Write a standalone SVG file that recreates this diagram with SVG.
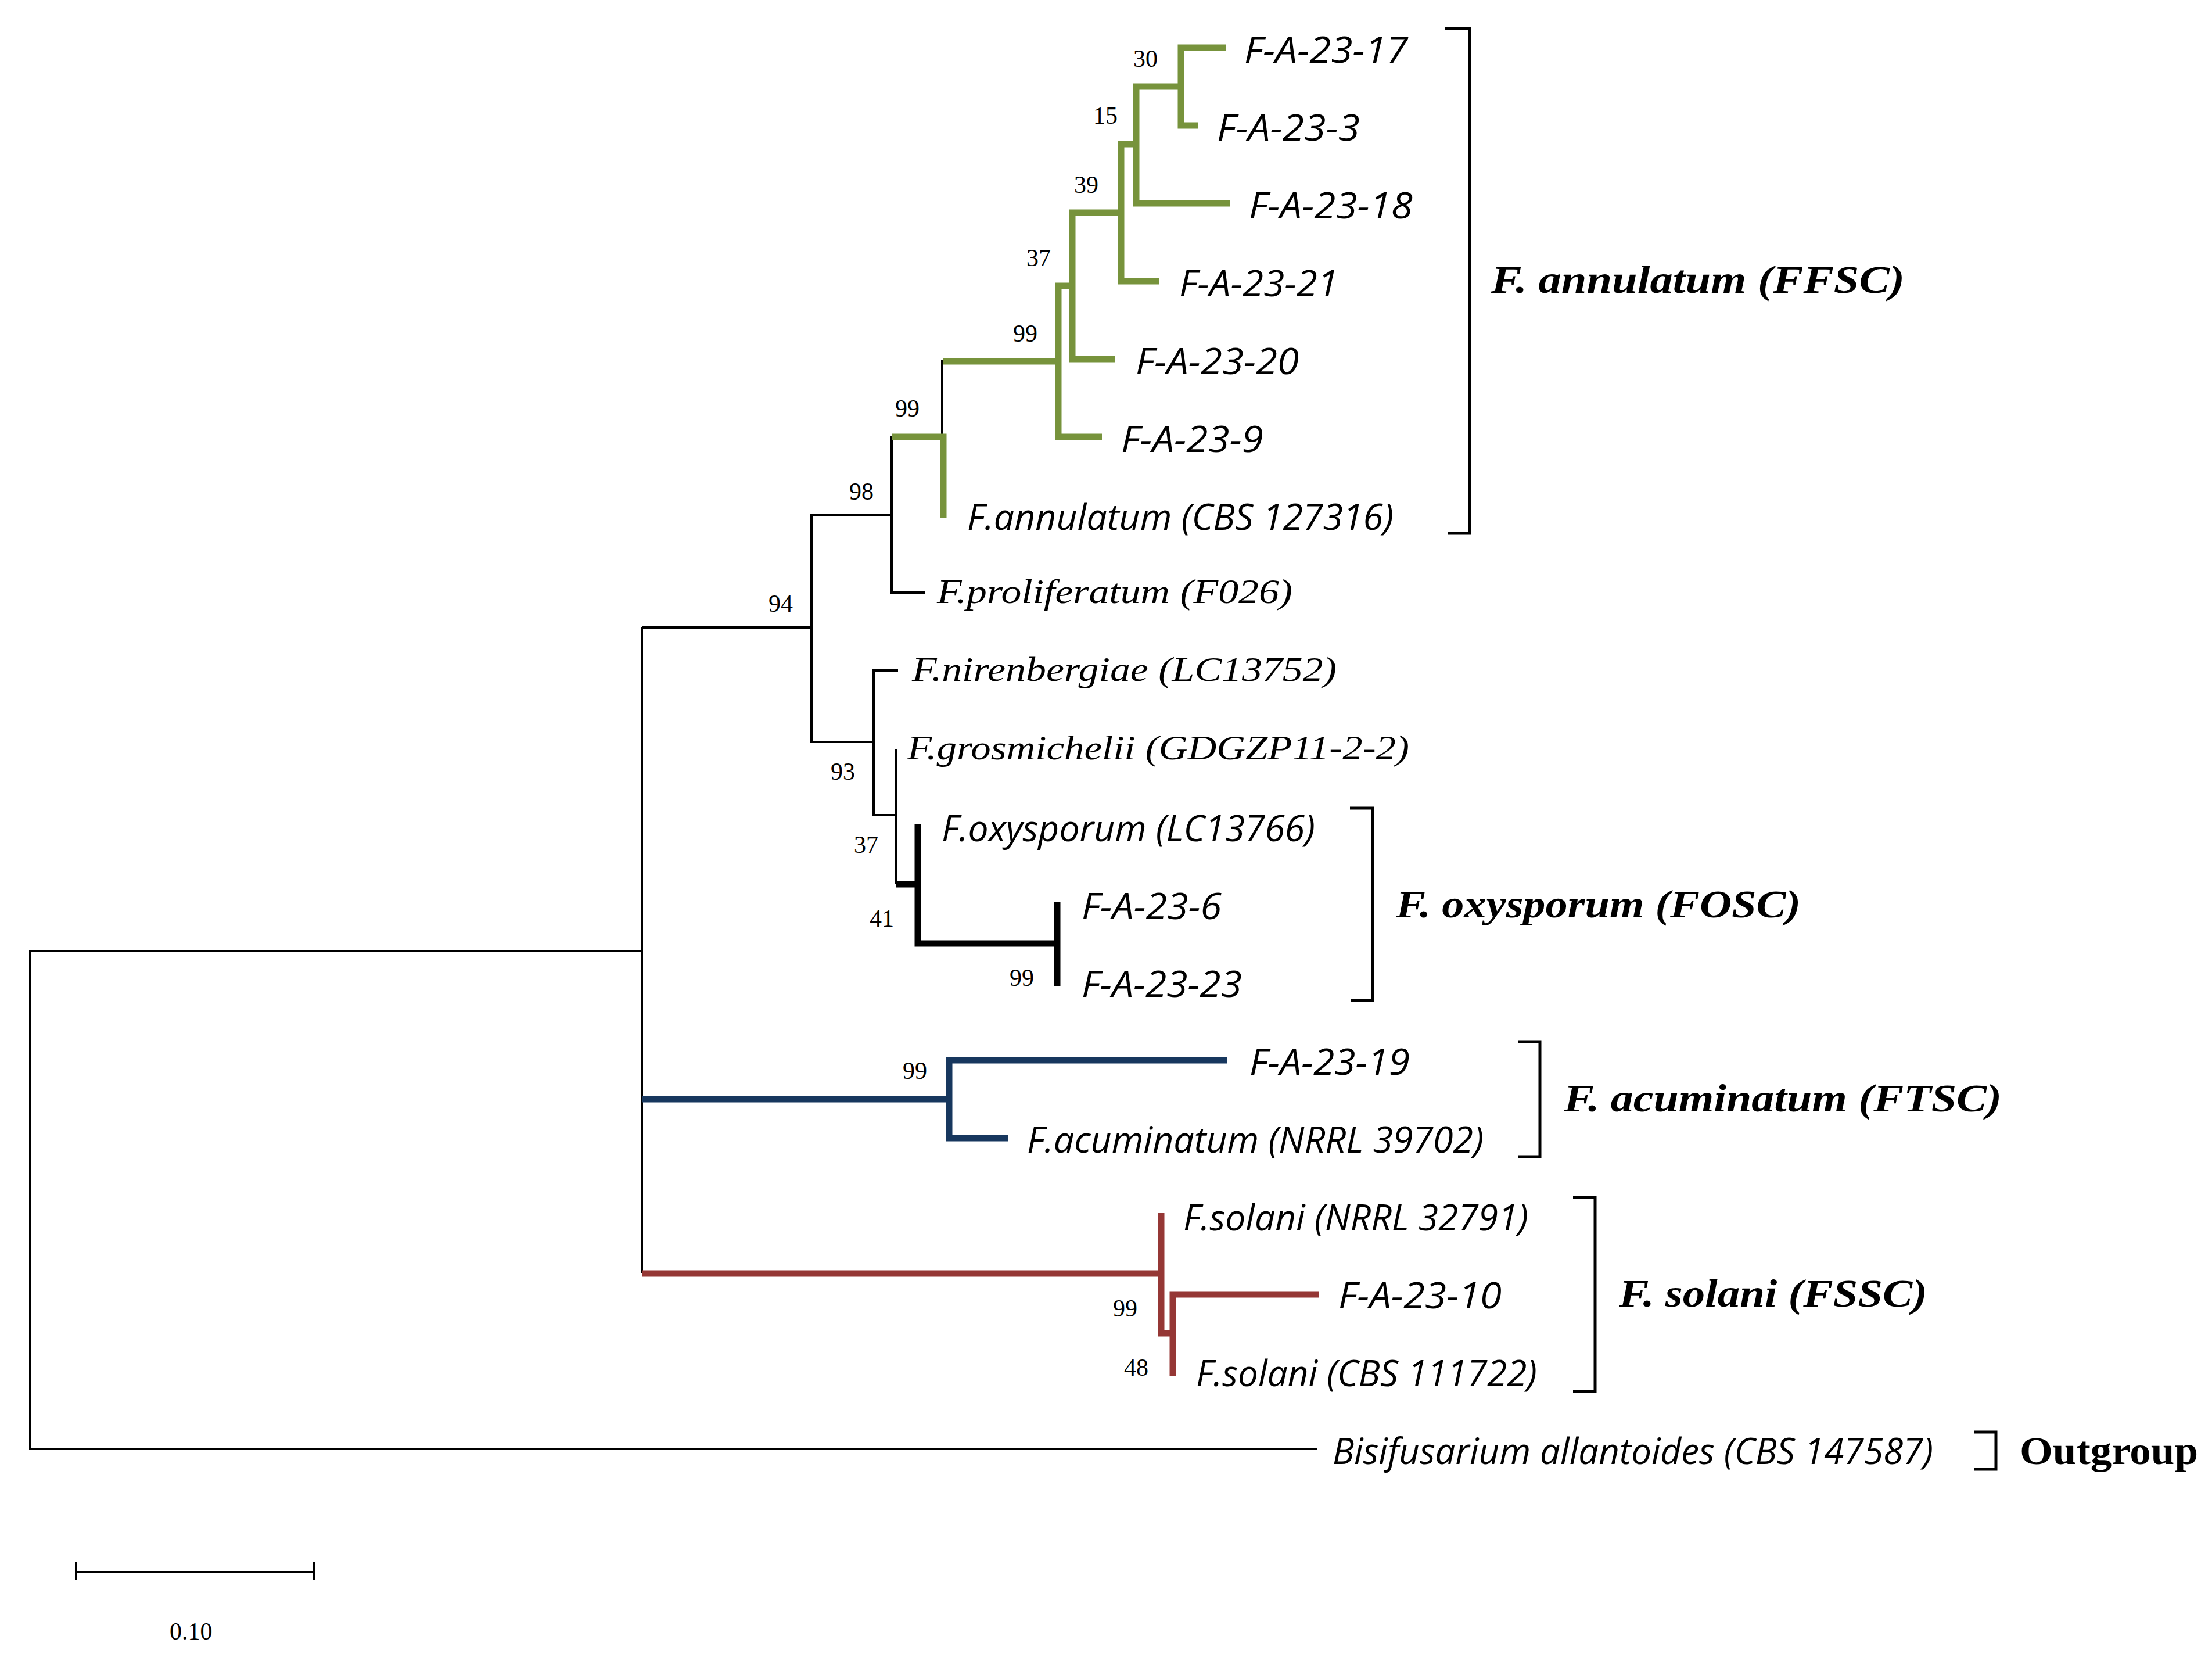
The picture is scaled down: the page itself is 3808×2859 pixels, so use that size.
<svg xmlns="http://www.w3.org/2000/svg" width="3808" height="2859" viewBox="0 0 3808 2859">
<style>
.bg{fill:#ffffff}
.thin{fill:none;stroke:#000;stroke-width:4;stroke-linejoin:miter}
.thickK{fill:none;stroke:#000;stroke-width:11;stroke-linejoin:miter}
.g{fill:none;stroke:#77933C;stroke-width:11;stroke-linejoin:miter}
.b{fill:none;stroke:#17375E;stroke-width:11;stroke-linejoin:miter}
.r{fill:none;stroke:#953735;stroke-width:11;stroke-linejoin:miter}
.br{fill:none;stroke:#000;stroke-width:5}
.leaf{font-family:"Open Sans","Noto Sans","Liberation Sans",sans-serif;font-style:italic;font-size:62px;fill:#000}
.leafs{font-family:"Liberation Serif","DejaVu Serif",serif;font-style:italic;font-size:60px;fill:#000}
.sup{font-family:"Liberation Serif","DejaVu Serif",serif;font-size:42px;fill:#000}
.clade{font-family:"Liberation Serif","DejaVu Serif",serif;font-style:italic;font-weight:bold;font-size:68px;fill:#000}
.out{font-family:"Liberation Serif","DejaVu Serif",serif;font-weight:bold;font-size:68px;fill:#000}
</style>
<rect class="bg" x="0" y="0" width="3808" height="2859"/>

<g id="connectors">
  <!-- black thin backbone -->
  <path class="thin" d="M1105 1637 H52 V2494 H2267"/>
  <path class="thin" d="M1105 1080 V2192"/>
  <path class="thin" d="M1105 1080 H1397"/>
  <path class="thin" d="M1535 886 H1397 V1277 H1504"/>
  <path class="thin" d="M1535 750 V1020 H1593"/>
  <path class="thin" d="M1622 620 V775"/>
  <path class="thin" d="M1546 1154 H1504 V1403 H1543"/>
  <path class="thin" d="M1543 1290 V1522"/>
  <!-- FFSC green -->
  <path class="g" d="M2110 82 H2033 V216 H2062"/>
  <path class="g" d="M2033 149 H1956 V350 H2117"/>
  <path class="g" d="M1956 248 H1930 V484 H1995"/>
  <path class="g" d="M1930 366 H1846 V618 H1920"/>
  <path class="g" d="M1846 492 H1822 V752 H1897"/>
  <path class="g" d="M1822 622 H1624"/>
  <path class="g" d="M1535 752 H1624 V892"/>
  <!-- FOSC black thick -->
  <path class="thickK" d="M1543 1522 H1580"/>
  <path class="thickK" d="M1580 1418 V1624 H1820"/>
  <path class="thickK" d="M1820 1552 V1697"/>
  <!-- FTSC blue -->
  <path class="b" d="M1105 1892 H1634"/>
  <path class="b" d="M2113 1825 H1634 V1959 H1735"/>
  <!-- FSSC red -->
  <path class="r" d="M1105 2192 H1999"/>
  <path class="r" d="M1999 2088 V2295 H2019"/>
  <path class="r" d="M2271 2228 H2019 V2368"/>
</g>

<!-- internal nodes with bootstrap support -->
<g id="n30"><text class="sup" x="1951" y="115">30</text></g>
<g id="n15"><text class="sup" x="1882" y="213">15</text></g>
<g id="n39"><text class="sup" x="1849" y="332">39</text></g>
<g id="n37a"><text class="sup" x="1767" y="458">37</text></g>
<g id="n99a"><text class="sup" x="1744" y="588">99</text></g>
<g id="n99b"><text class="sup" x="1541" y="717">99</text></g>
<g id="n98"><text class="sup" x="1462" y="860">98</text></g>
<g id="n94"><text class="sup" x="1323" y="1053">94</text></g>
<g id="n93"><text class="sup" x="1430" y="1342">93</text></g>
<g id="n37b"><text class="sup" x="1470" y="1468">37</text></g>
<g id="n41"><text class="sup" x="1497" y="1595">41</text></g>
<g id="n99c"><text class="sup" x="1738" y="1697">99</text></g>
<g id="n99d"><text class="sup" x="1554" y="1857">99</text></g>
<g id="n99e"><text class="sup" x="1916" y="2266">99</text></g>
<g id="n48"><text class="sup" x="1935" y="2368">48</text></g>

<!-- leaves -->
<g id="leaf-FA2317"><text class="leaf" x="2142" y="108" textLength="282" lengthAdjust="spacingAndGlyphs">F-A-23-17</text></g>
<g id="leaf-FA233"><text class="leaf" x="2095" y="242" textLength="246" lengthAdjust="spacingAndGlyphs">F-A-23-3</text></g>
<g id="leaf-FA2318"><text class="leaf" x="2150" y="376" textLength="282" lengthAdjust="spacingAndGlyphs">F-A-23-18</text></g>
<g id="leaf-FA2321"><text class="leaf" x="2030" y="510" textLength="274" lengthAdjust="spacingAndGlyphs">F-A-23-21</text></g>
<g id="leaf-FA2320"><text class="leaf" x="1955" y="644" textLength="281" lengthAdjust="spacingAndGlyphs">F-A-23-20</text></g>
<g id="leaf-FA239"><text class="leaf" x="1930" y="778" textLength="245" lengthAdjust="spacingAndGlyphs">F-A-23-9</text></g>
<g id="leaf-annulatum"><text class="leaf" x="1665" y="912" textLength="734" lengthAdjust="spacingAndGlyphs">F.annulatum (CBS 127316)</text></g>
<g id="leaf-proliferatum"><text class="leafs" x="1613" y="1038" textLength="612" lengthAdjust="spacingAndGlyphs">F.proliferatum (F026)</text></g>
<g id="leaf-nirenbergiae"><text class="leafs" x="1570" y="1172" textLength="731" lengthAdjust="spacingAndGlyphs">F.nirenbergiae (LC13752)</text></g>
<g id="leaf-grosmichelii"><text class="leafs" x="1562" y="1307" textLength="864" lengthAdjust="spacingAndGlyphs">F.grosmichelii (GDGZP11-2-2)</text></g>
<g id="leaf-oxysporum"><text class="leaf" x="1621" y="1448" textLength="643" lengthAdjust="spacingAndGlyphs">F.oxysporum (LC13766)</text></g>
<g id="leaf-FA236"><text class="leaf" x="1862" y="1582" textLength="241" lengthAdjust="spacingAndGlyphs">F-A-23-6</text></g>
<g id="leaf-FA2323"><text class="leaf" x="1862" y="1716" textLength="276" lengthAdjust="spacingAndGlyphs">F-A-23-23</text></g>
<g id="leaf-FA2319"><text class="leaf" x="2151" y="1850" textLength="276" lengthAdjust="spacingAndGlyphs">F-A-23-19</text></g>
<g id="leaf-acuminatum"><text class="leaf" x="1768" y="1984" textLength="786" lengthAdjust="spacingAndGlyphs">F.acuminatum (NRRL 39702)</text></g>
<g id="leaf-solani1"><text class="leaf" x="2037" y="2118" textLength="594" lengthAdjust="spacingAndGlyphs">F.solani (NRRL 32791)</text></g>
<g id="leaf-FA2310"><text class="leaf" x="2304" y="2252" textLength="281" lengthAdjust="spacingAndGlyphs">F-A-23-10</text></g>
<g id="leaf-solani2"><text class="leaf" x="2059" y="2386" textLength="587" lengthAdjust="spacingAndGlyphs">F.solani (CBS 111722)</text></g>
<g id="leaf-bisifusarium"><text class="leaf" x="2294" y="2520" textLength="1034" lengthAdjust="spacingAndGlyphs">Bisifusarium allantoides (CBS 147587)</text></g>

<!-- clade brackets and labels -->
<g id="clade-FFSC">
  <path class="br" d="M2488 49 H2530 V918 H2492"/>
  <text class="clade" x="2567" y="504" textLength="712" lengthAdjust="spacingAndGlyphs">F. annulatum (FFSC)</text>
</g>
<g id="clade-FOSC">
  <path class="br" d="M2324 1391 H2363 V1722 H2326"/>
  <text class="clade" x="2403" y="1579" textLength="697" lengthAdjust="spacingAndGlyphs">F. oxysporum (FOSC)</text>
</g>
<g id="clade-FTSC">
  <path class="br" d="M2613 1793 H2651 V1991 H2613"/>
  <text class="clade" x="2692" y="1913" textLength="754" lengthAdjust="spacingAndGlyphs">F. acuminatum (FTSC)</text>
</g>
<g id="clade-FSSC">
  <path class="br" d="M2708 2061 H2746 V2395 H2708"/>
  <text class="clade" x="2787" y="2249" textLength="531" lengthAdjust="spacingAndGlyphs">F. solani (FSSC)</text>
</g>
<g id="clade-outgroup">
  <path class="br" d="M3398 2465 H3436 V2529 H3398"/>
  <text class="out" x="3477" y="2520" textLength="307" lengthAdjust="spacingAndGlyphs">Outgroup</text>
</g>

<!-- scale bar -->
<g id="scalebar">
  <path class="thin" d="M131 2706 H541 M131 2688 V2720 M541 2688 V2720"/>
  <text class="sup" x="292" y="2822">0.10</text>
</g>
</svg>
